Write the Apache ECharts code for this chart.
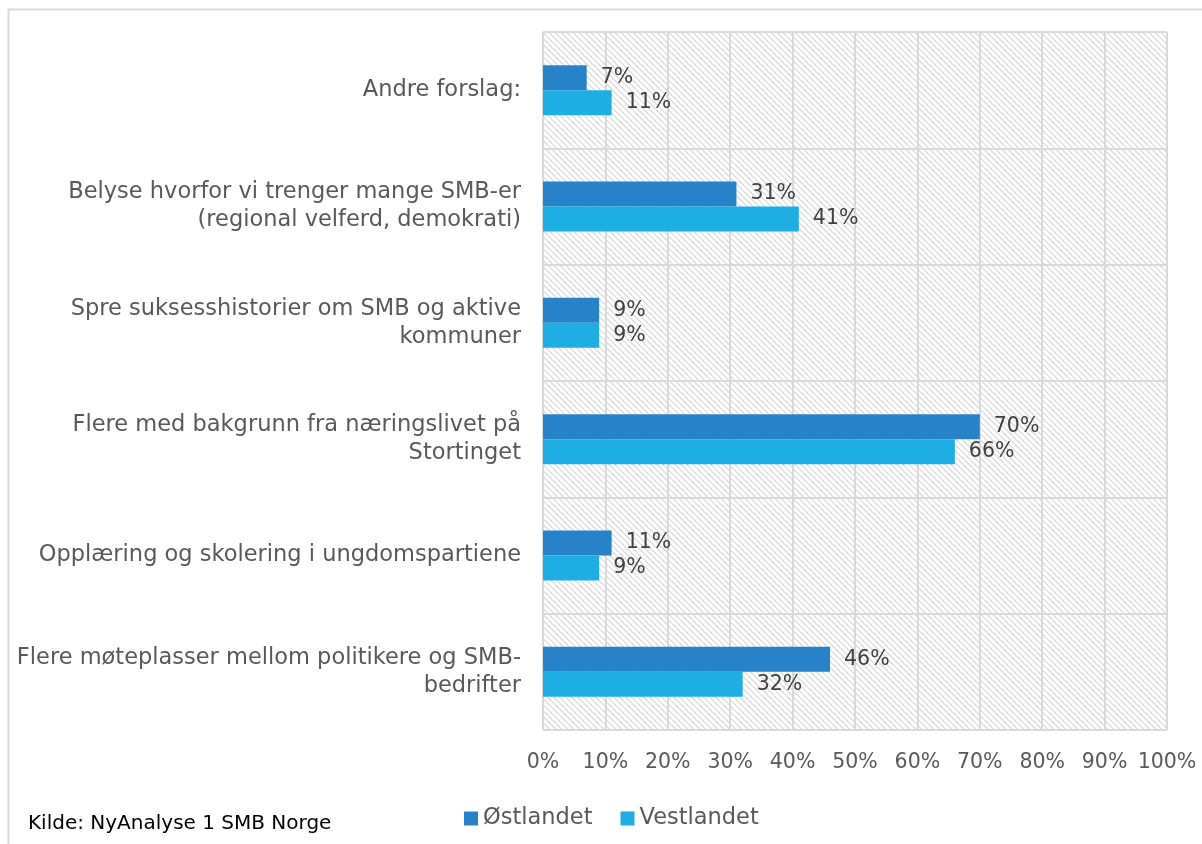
<!DOCTYPE html>
<html>
<head>
<meta charset="utf-8">
<script src="https://cdn.jsdelivr.net/npm/echarts@6/dist/echarts.min.js"></script>
<style>
  html, body { margin: 0; padding: 0; background: #fff; }
  #chart { width: 1202px; height: 844px; }
</style>
</head>
<body>
<div id="chart"></div>
<script>
// categories top to bottom
const categories = [
  'Andre forslag:',
  'Belyse hvorfor vi trenger mange SMB-er\n(regional velferd, demokrati)',
  'Spre suksesshistorier om SMB og aktive\nkommuner',
  'Flere med bakgrunn fra næringslivet på\nStortinget',
  'Opplæring og skolering i ungdomspartiene',
  'Flere møteplasser mellom politikere og SMB-\nbedrifter'
]
const ostlandet = [7, 31, 9, 70, 11, 46]
const vestlandet = [11, 41, 9, 66, 9, 32]
const seriesNames = ['Østlandet', 'Vestlandet']
const source = 'Kilde: NyAnalyse 1 SMB Norge'

const FONT = 'DejaVu Sans'
const GRID = '#d9d9d9'

// diagonal hatch for the plot background
function hatch() {
  const n = 6
  const c = document.createElement('canvas')
  c.width = n; c.height = n
  const ctx = c.getContext('2d')
  const img = ctx.createImageData(n, n)
  for (let y = 0; y < n; y++) {
    for (let x = 0; x < n; x++) {
      const d = ((x - y) % n + n) % n
      const v = d < 2 ? 224 : 255
      const i = (y * n + x) * 4
      img.data[i] = v; img.data[i + 1] = v; img.data[i + 2] = v; img.data[i + 3] = 255
    }
  }
  ctx.putImageData(img, 0, 0)
  return c
}

const chart = echarts.init(document.getElementById('chart'))

const labelStyle = {
  show: true,
  position: 'right',
  distance: 14,
  color: '#404040',
  fontFamily: FONT,
  fontSize: 20.5,
  formatter: p => p.value + '%'
}

chart.setOption({
  animation: false,
  textStyle: { fontFamily: FONT },
  grid: {
    left: 543, right: 35, top: 32, bottom: 114,
    show: true,
    borderWidth: 0,
    backgroundColor: { image: hatch(), repeat: 'repeat' }
  },
  legend: {
    data: seriesNames,
    left: 459,
    top: 802,
    icon: 'rect',
    itemWidth: 14,
    itemHeight: 14,
    itemGap: 28,
    textStyle: { color: '#595959', fontSize: 22.5, fontFamily: FONT }
  },
  xAxis: {
    type: 'value',
    min: 0,
    max: 100,
    interval: 10,
    axisLine: { show: false },
    axisTick: { show: false },
    axisLabel: { color: '#595959', fontSize: 20.5, margin: 22, formatter: '{value}%' },
    splitLine: { lineStyle: { color: GRID, width: 2 } }
  },
  yAxis: {
    type: 'category',
    data: categories,
    inverse: true,
    axisLine: { show: false },
    axisTick: { show: false },
    axisLabel: { color: '#595959', fontSize: 22.5, margin: 22, align: 'right', lineHeight: 28 },
    splitLine: { show: true, lineStyle: { color: GRID, width: 2 } }
  },
  series: [
    {
      name: seriesNames[0],
      type: 'bar',
      data: ostlandet,
      barWidth: 25,
      barGap: '0%',
      itemStyle: { color: '#2782c8' },
      label: labelStyle
    },
    {
      name: seriesNames[1],
      type: 'bar',
      data: vestlandet,
      barWidth: 25,
      itemStyle: { color: '#1eaee3' },
      label: labelStyle
    }
  ],
  graphic: [
    {
      type: 'rect',
      shape: { x: 8.5, y: 9.5, width: 1300, height: 900 },
      style: { fill: 'none', stroke: GRID, lineWidth: 2 },
      silent: true
    },
    {
      type: 'text',
      left: 28,
      top: 814,
      style: { text: source, fill: '#000', fontSize: 20, fontFamily: FONT }
    }
  ]
})
</script>
</body>
</html>
